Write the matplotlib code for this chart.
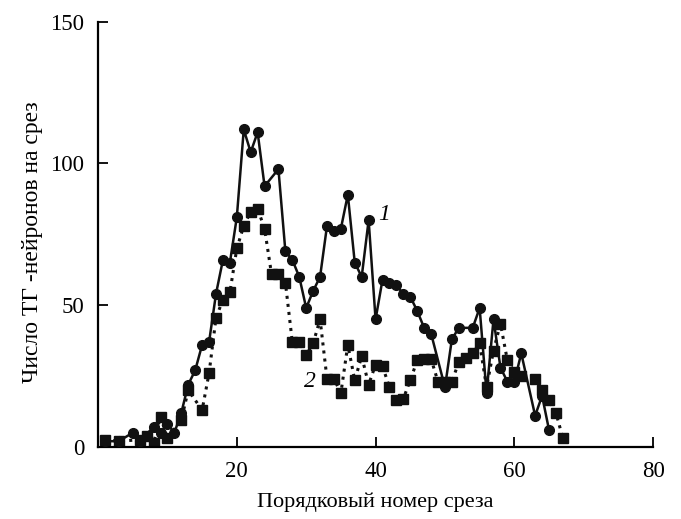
import numpy as np
import matplotlib
matplotlib.use('Agg')
import matplotlib.pyplot as plt

plt.rcParams['font.family'] = ['Liberation Serif', 'DejaVu Serif']

# curve 1 (circles, solid)
x1 = [1, 3, 5, 6, 8, 9, 10, 11, 12, 13, 14, 15, 16, 17, 18, 19, 20, 21, 22, 23, 24, 26,
      27, 28, 29, 30, 31, 32, 33, 34, 35, 36, 37, 38, 39, 40, 41, 42, 43, 44, 45, 46,
      47, 48, 50, 51, 52, 54, 55, 56, 57, 58, 59, 60, 61, 63, 64, 65]
y1 = [2, 2, 5, 2, 7, 5, 8, 5, 12, 22, 27, 36, 37, 54, 66, 65, 81, 112, 104, 111, 92, 98,
      69, 66, 60, 49, 55, 60, 78, 76, 77, 89, 65, 60, 80, 45, 59, 58, 57, 54, 53, 48,
      42, 40, 21, 38, 42, 42, 49, 19, 45, 28, 23, 23, 33, 11, 18, 6]

# curve 2 (squares, dotted)
x2 = [1, 3, 6, 7, 8, 9, 10, 12, 13, 15, 16, 17, 18, 19, 20, 21, 22, 23, 24, 25, 26, 27,
      28, 29, 30, 31, 32, 33, 34, 35, 36, 37, 38, 39, 40, 41, 42, 43, 44, 45, 46, 47,
      48, 49, 50, 51, 52, 53, 54, 55, 56, 57, 58, 59, 60, 61, 63, 64, 65, 66, 67]
y2 = [2.5, 2, 2.5, 4, 1.3, 10.7, 3, 9.5, 20, 13, 26, 45.5, 52, 54.5, 70, 78, 83, 84, 77,
      61, 61, 58, 37, 37, 32.5, 36.5, 45, 24, 24, 19, 36, 23.5, 32, 22, 29, 28.5, 21,
      16.5, 17, 23.5, 30.5, 31, 31, 23, 23, 23, 30, 31.5, 33, 36.5, 21, 34, 43.5, 30.5,
      26.5, 25, 24, 20, 16.5, 12, 3]

fig = plt.figure(figsize=(6.81, 5.19), dpi=100)
ax = fig.add_axes([0.144, 0.139, 0.815, 0.819])

ax.plot(x1, y1, '-', color='#111111', lw=1.8, marker='o', ms=7, zorder=3)
ax.plot(x2, y2, ':', color='#111111', lw=2.2, marker='s', ms=7, zorder=2)

ax.text(41.3, 82, '1', fontsize=17, style='italic', ha='center', va='center')
ax.text(30.5, 23, '2', fontsize=17, style='italic', ha='center', va='center')

ax.set_xlim(0, 80)
ax.set_ylim(0, 150)
ax.set_xticks([20, 40, 60, 80])
ax.set_yticks([0, 50, 100, 150])
ax.spines['top'].set_visible(False)
ax.spines['right'].set_visible(False)
ax.spines['left'].set_linewidth(1.6)
ax.spines['bottom'].set_linewidth(1.6)
ax.tick_params(direction='in', length=7, width=1.3, labelsize=16.5, pad=10)

ax.set_xlabel('Порядковый номер среза', fontsize=16, labelpad=8)
ax.set_ylabel('Число ТГ -нейронов на срез', fontsize=17)
ax.yaxis.set_label_coords(-0.1, 0.482)

plt.savefig('out.png', dpi=100)
